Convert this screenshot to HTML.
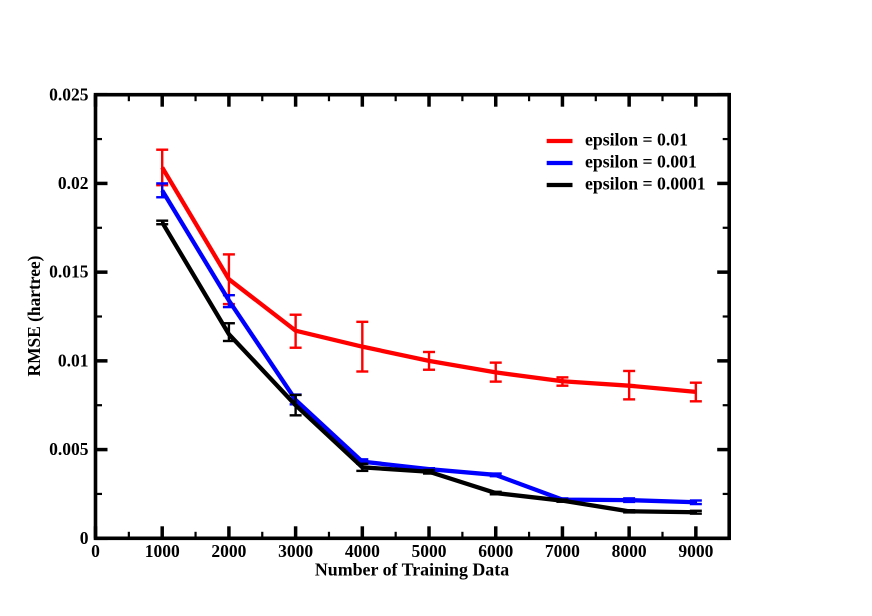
<!DOCTYPE html>
<html>
<head>
<meta charset="utf-8">
<style>
html,body{margin:0;padding:0;background:#fff;}
svg{display:block;}
text{font-family:"Liberation Serif",serif;font-weight:bold;fill:#000;}
</style>
</head>
<body>
<svg id="chart" width="872" height="616" viewBox="0 0 872 616" xmlns="http://www.w3.org/2000/svg">
  <text x="412" y="575.5" font-size="17.9" text-anchor="middle">Number of Training Data</text>
  <text transform="translate(40,316) rotate(-90)" font-size="17.4" text-anchor="middle">RMSE (hartree)</text>
  <g id="marks"></g>
  <g id="axes"></g>
  <g id="legend"></g>
</svg>
<script>
const categories = [1000, 2000, 3000, 4000, 5000, 6000, 7000, 8000, 9000];
const redValues = [0.0209, 0.0146, 0.0117, 0.0108, 0.0100, 0.00935, 0.00885, 0.0086, 0.00825];
const redUpper = [0.0219, 0.0160, 0.0126, 0.0122, 0.0105, 0.0099, 0.00907, 0.00943, 0.00877];
const redLower = [0.0199, 0.0132, 0.01074, 0.0094, 0.0095, 0.00883, 0.0086, 0.00783, 0.00772];
const blueValues = [0.0196, 0.0134, 0.0078, 0.00432, 0.0039, 0.00357, 0.00218, 0.00215, 0.00203];
const blueUpper = [0.0200, 0.0137, 0.0081, 0.00445, 0.00395, 0.00365, 0.00225, 0.00225, 0.00213];
const blueLower = [0.01922, 0.01303, 0.00755, 0.0042, 0.00385, 0.0035, 0.00212, 0.00205, 0.00193];
const blackValues = [0.0178, 0.0115, 0.0075, 0.0040, 0.00375, 0.00255, 0.00212, 0.00152, 0.00147];
const blackUpper = [0.0179, 0.01212, 0.00808, 0.0042, 0.00385, 0.00262, 0.00218, 0.00158, 0.00155];
const blackLower = [0.0177, 0.01112, 0.00693, 0.0038, 0.00365, 0.00248, 0.00206, 0.00146, 0.00139];
const xMajorTicks = [0, 1000, 2000, 3000, 4000, 5000, 6000, 7000, 8000, 9000];
const xMinorTicks = [500, 1500, 2500, 3500, 4500, 5500, 6500, 7500, 8500];
const yMajorTicks = [0, 0.005, 0.01, 0.015, 0.02, 0.025];
const yMinorTicks = [0.0025, 0.0075, 0.0125, 0.0175, 0.0225];
const yTickLabels = ["0", "0.005", "0.01", "0.015", "0.02", "0.025"];
const legendLabels = ["epsilon = 0.01", "epsilon = 0.001", "epsilon = 0.0001"];

const NS = "http://www.w3.org/2000/svg";
const LEFT = 95.5, RIGHT = 729.2, TOP = 94.7, BOTTOM = 538.3, XMAX = 9500, YMAX = 0.025;
function xScale(v) { return LEFT + (RIGHT - LEFT) * v / XMAX; }
function yScale(v) { return BOTTOM - (BOTTOM - TOP) * v / YMAX; }
function lineEl(parent, x1, y1, x2, y2, color, width) {
  const l = document.createElementNS(NS, "line");
  l.setAttribute("x1", x1);
  l.setAttribute("y1", y1);
  l.setAttribute("x2", x2);
  l.setAttribute("y2", y2);
  l.setAttribute("stroke", color);
  l.setAttribute("stroke-width", width);
  parent.appendChild(l);
  return l;
}
const marks = document.getElementById("marks");
const axes = document.getElementById("axes");
const legend = document.getElementById("legend");

function drawSeries(key, color, values, upper, lower) {
  const group = document.createElementNS(NS, "g");
  
  
  marks.appendChild(group);
  const path = document.createElementNS(NS, "polyline");
  
  
  path.setAttribute("fill", "none");
  path.setAttribute("stroke", color);
  path.setAttribute("stroke-width", "4.3");
  path.setAttribute("stroke-linejoin", "round");
  path.setAttribute("points", values.map((v, i) => xScale(categories[i]) + "," + yScale(v)).join(" "));
  group.appendChild(path);
  categories.forEach((c, i) => {
    const x = xScale(c);
    const bar = document.createElementNS(NS, "g");
    
    
    group.appendChild(bar);
    lineEl(bar, x, yScale(upper[i]), x, yScale(lower[i]), color, 2.4);
    lineEl(bar, x - 6, yScale(upper[i]), x + 6, yScale(upper[i]), color, 2.4);
    lineEl(bar, x - 6, yScale(lower[i]), x + 6, yScale(lower[i]), color, 2.4);
  });
}
drawSeries("red", "#ff0000", redValues, redUpper, redLower);
drawSeries("blue", "#0000ff", blueValues, blueUpper, blueLower);
drawSeries("black", "#000000", blackValues, blackUpper, blackLower);

xMajorTicks.forEach((t) => {
  const x = xScale(t);
  const a = lineEl(axes, x, BOTTOM, x, BOTTOM - 12, "#000", 3.5);
  
  
  const b = lineEl(axes, x, TOP, x, TOP + 12, "#000", 3.5);
  
  
  const label = document.createElementNS(NS, "text");
  
  
  label.setAttribute("x", x);
  label.setAttribute("y", 556.8);
  label.setAttribute("font-size", "17.5");
  label.setAttribute("text-anchor", "middle");
  label.textContent = String(t);
  axes.appendChild(label);
});
xMinorTicks.forEach((t) => {
  const x = xScale(t);
  const a = lineEl(axes, x, BOTTOM, x, BOTTOM - 6.5, "#000", 2.2);
  
  
  const b = lineEl(axes, x, TOP, x, TOP + 6.5, "#000", 2.2);
  
  
});
yMajorTicks.forEach((t, i) => {
  const y = yScale(t);
  const a = lineEl(axes, LEFT, y, LEFT + 12, y, "#000", 3.5);
  
  
  const b = lineEl(axes, RIGHT, y, RIGHT - 12, y, "#000", 3.5);
  
  
  const label = document.createElementNS(NS, "text");
  
  
  label.setAttribute("x", 88.5);
  label.setAttribute("y", y + 5.6);
  label.setAttribute("font-size", "17.5");
  label.setAttribute("text-anchor", "end");
  label.textContent = yTickLabels[i];
  axes.appendChild(label);
});
yMinorTicks.forEach((t) => {
  const y = yScale(t);
  const a = lineEl(axes, LEFT, y, LEFT + 6.5, y, "#000", 2.2);
  
  
  const b = lineEl(axes, RIGHT, y, RIGHT - 6.5, y, "#000", 2.2);
  
  
});
const frame = document.createElementNS(NS, "rect");


frame.setAttribute("x", LEFT);
frame.setAttribute("y", TOP);
frame.setAttribute("width", RIGHT - LEFT);
frame.setAttribute("height", BOTTOM - TOP);
frame.setAttribute("fill", "none");
frame.setAttribute("stroke", "#000");
frame.setAttribute("stroke-width", "3.6");
axes.appendChild(frame);

const legendColors = ["#ff0000", "#0000ff", "#000000"];
legendLabels.forEach((name, i) => {
  const y = 141 + i * 22;
  const entry = document.createElementNS(NS, "g");
  
  
  legend.appendChild(entry);
  lineEl(entry, 546.7, y, 572.5, y, legendColors[i], 4.2);
  const label = document.createElementNS(NS, "text");
  label.setAttribute("x", 585);
  label.setAttribute("y", y + 4.5);
  label.setAttribute("font-size", "17.7");
  label.textContent = name;
  entry.appendChild(label);
});
</script>
</body>
</html>
